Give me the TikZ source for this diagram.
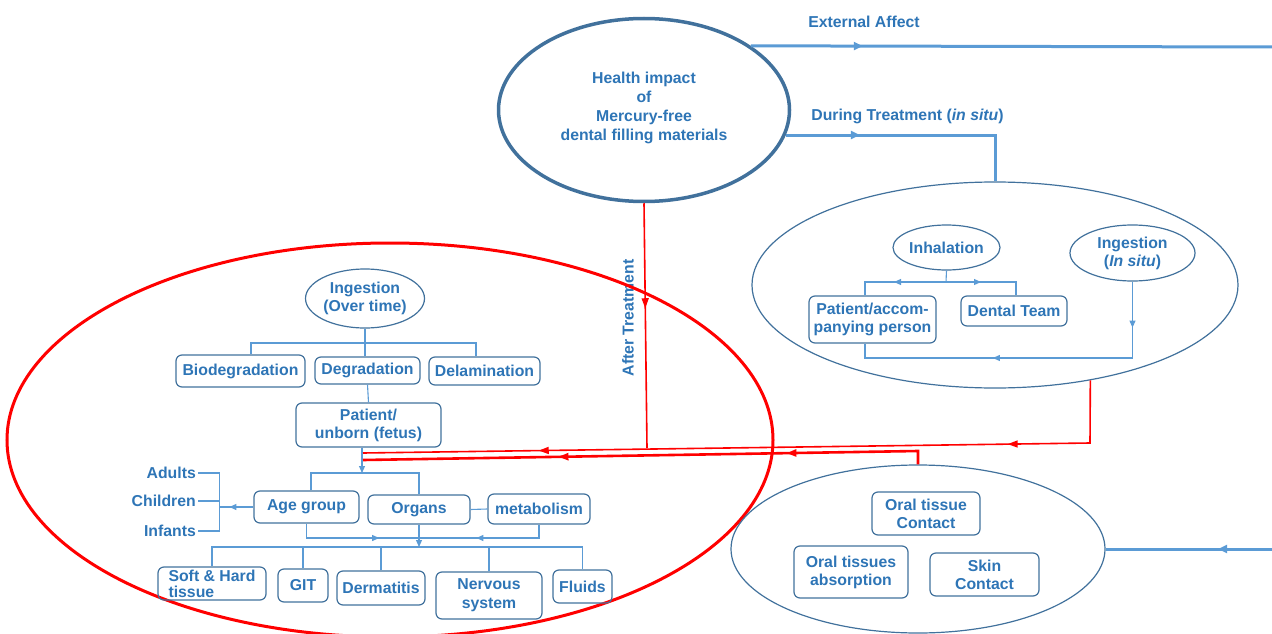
\documentclass[tikz,border=0pt]{standalone}
\usepackage{fontspec}
\setmainfont{Liberation Sans}
\usetikzlibrary{shapes.geometric,arrows.meta,decorations.markings,positioning}
\definecolor{txtblue}{HTML}{2E75B6}
\definecolor{boxblue}{HTML}{41719C}
\definecolor{lineblue}{HTML}{5B9BD5}
\begin{document}
\begin{tikzpicture}
	[x=1pt,y=-1pt,
	every node/.style={font=\fontsize{15.8}{18}\selectfont\bfseries,text=txtblue},
	box/.style={draw=boxblue,line width=1.2pt,rounded corners=6pt,align=center,inner sep=2pt},
	bubble/.style={ellipse,draw=boxblue,line width=1.2pt,align=center,inner sep=0pt},
	conn/.style={draw=lineblue,line width=1.1pt},
	flow/.style={draw=lineblue,line width=3pt},
	redline/.style={draw=red,line width=1.6pt},
	midtip/.style={postaction={decorate,decoration={markings,mark=at position #1 with {\arrow{Triangle[length=7pt,width=6pt]}}}}},
	bigtip/.style={postaction={decorate,decoration={markings,mark=at position #1 with {\arrow{Triangle[length=9pt,width=8pt]}}}}},
	redtip/.style={postaction={decorate,decoration={markings,mark=at position #1 with {\arrow{Triangle[length=10pt,width=7pt]}}}}}]
	\useasboundingbox (0,0) rectangle (1272,634);
	\node [bubble,line width=3.5pt,minimum width=291pt,minimum height=183pt,font=\fontsize{15.8}{19}\selectfont\bfseries] (main) at (644,110) {Health impact\\of\\Mercury-free\\dental filling materials\rule[-7pt]{0pt}{7pt}};
	\node (extlab) at (864,22) {External Affect};
	\node (durlab) at (907.5,116) {During Treatment (\textit{in situ})};
	\node [rotate=90] (aftlab) at (628,318) {After Treatment};
	\node [bubble,minimum width=486pt,minimum height=206pt] (during) at (995,285) {};
	\node [bubble,minimum width=107pt,minimum height=45pt] (inhal) at (946.5,247.5) {Inhalation};
	\node [bubble,minimum width=125pt,minimum height=56pt] (ingis) at (1132.5,253) {Ingestion\\(\textit{In situ})};
	\node [box,minimum width=127pt,minimum height=47pt] (patacc) at (872.5,319.5) {Patient/accom-\\panying person};
	\node [box,minimum width=106pt,minimum height=30pt] (dteam) at (1014,311) {Dental Team};
	\node [bubble,draw=red,line width=3pt,minimum width=766pt,minimum height=394pt] (afterell) at (390,440) {};
	\node [bubble,minimum width=119pt,minimum height=59pt] (ingov) at (365,298.5) {Ingestion\\(Over time)};
	\node [box,minimum width=129pt,minimum height=32pt] (biod) at (240.5,371) {Biodegradation};
	\node [box,minimum width=105pt,minimum height=27pt] (degr) at (367.5,370.5) {Degradation};
	\node [box,minimum width=111pt,minimum height=28pt] (delam) at (484.5,371) {Delamination};
	\node [box,minimum width=145pt,minimum height=44pt] (fetus) at (368.5,425) {Patient/\\unborn (fetus)};
	\node [box,minimum width=105pt,minimum height=32pt] (age) at (306.5,507) {Age group};
	\node [box,minimum width=102pt,minimum height=29pt] (organs) at (419,509.5) {Organs};
	\node [box,minimum width=102pt,minimum height=30pt] (metab) at (539,509) {metabolism};
	\node [anchor=east,inner sep=2pt] (adults) at (198,473) {Adults};
	\node [anchor=east,inner sep=2pt] (children) at (198,501) {Children};
	\node [anchor=east,inner sep=2pt] (infants) at (198,531) {Infants};
	\node [box,align=left,minimum width=108pt,minimum height=33pt,font=\fontsize{15.8}{16}\selectfont\bfseries] (soft) at (212,583.5) {Soft \& Hard\\tissue};
	\node [box,minimum width=50pt,minimum height=33pt] (git) at (303,585.5) {GIT};
	\node [box,minimum width=88pt,minimum height=34pt] (derm) at (381,588) {Dermatitis};
	\node [box,minimum width=106pt,minimum height=47pt,font=\fontsize{15.8}{19}\selectfont\bfseries] (nerv) at (489,595.5) {Nervous\\system};
	\node [box,minimum width=59pt,minimum height=33pt] (fluids) at (582.5,586.5) {Fluids};
	\node [bubble,minimum width=374pt,minimum height=168pt] (contact) at (918,549) {};
	\node [box,minimum width=108pt,minimum height=43pt] (oralc) at (926,513.5) {Oral tissue\\Contact};
	\node [box,minimum width=114pt,minimum height=52pt] (orala) at (851,572) {Oral tissues\\absorption};
	\node [box,minimum width=109pt,minimum height=43pt] (skin) at (984.5,574.5) {Skin\\Contact};
	\coordinate (extend) at (1272,47);
	\coordinate (skinin) at (1272,549);
	\draw[flow,bigtip=112pt] (main.31) -- (extend);
	\draw[flow,bigtip=74pt] (main.350) -| (during.north);
	\draw[flow,bigtip=54pt] (skinin) -- (contact.east);
	\coordinate (split5) at (946,282);
	\coordinate (ret) at (865,358);
	\draw[conn] (inhal.south) -- (split5);
	\draw[conn,midtip=52pt] (split5) -| ([xshift=-7.5pt]patacc.north);
	\draw[conn,midtip=35pt] (split5) -| ([xshift=2pt]dteam.north);
	\draw[conn,midtip=46pt,midtip=216pt] (ingis.south) |- (ret) -- ([xshift=-7.5pt]patacc.south);
	\coordinate (split1) at (366,343);
	\coordinate (split2) at (362,473);
	\coordinate (ageb) at (219.5,507);
	\coordinate (mid3) at (419,538);
	\coordinate (split4) at (419,547);
	\draw[conn] (ingov.south) -- (ingov.south |- degr.north);
	\draw[conn] ([xshift=10.5pt]biod.north) |- (split1) -| ([xshift=-8.5pt]delam.north);
	\draw[conn] (degr.south) -- (fetus.north);
	\draw[conn,-{Triangle[length=7pt,width=6pt]}] ([xshift=-6.5pt]fetus.south) -- (split2);
	\draw[conn] ([xshift=4.5pt]age.north) |- (split2) -| (organs.north);
	\draw[conn] (organs.east) -- (metab.west);
	\draw[conn,midtip=24pt] (age.west) -- (ageb);
	\draw[conn] (adults.east) -| (ageb) |- (infants.east);
	\draw[conn] (children.east) -- (children.east -| ageb);
	\draw[conn,midtip=87pt] (age.south) |- (mid3);
	\draw[conn,midtip=76pt] (metab.south) |- (mid3);
	\draw[conn,-{Triangle[length=7pt,width=6pt]}] (organs.south) -- (split4);
	\draw[conn] (soft.north) |- (split4) -| (fluids.north);
	\foreach \n in {git,derm,nerv}
		\draw[conn] (\n.north) -- (\n.north |- split4);
	\coordinate (ra) at (1090,443);
	\coordinate (feeda) at (363,453);
	\coordinate (atj) at (647,448);
	\coordinate (rb) at (918,451);
	\coordinate (feedb) at (363,460);
	\draw[redline,redtip=145pt,redtip=614pt] (during.315) -- (ra) -- (feeda);
	\draw[redline,redtip=105pt] (main.south) -- (atj);
	\draw[redline,line width=2.6pt,redtip=145pt,redtip=373pt] (contact.north) -- (rb) -- (feedb);
\end{tikzpicture}
\end{document}
